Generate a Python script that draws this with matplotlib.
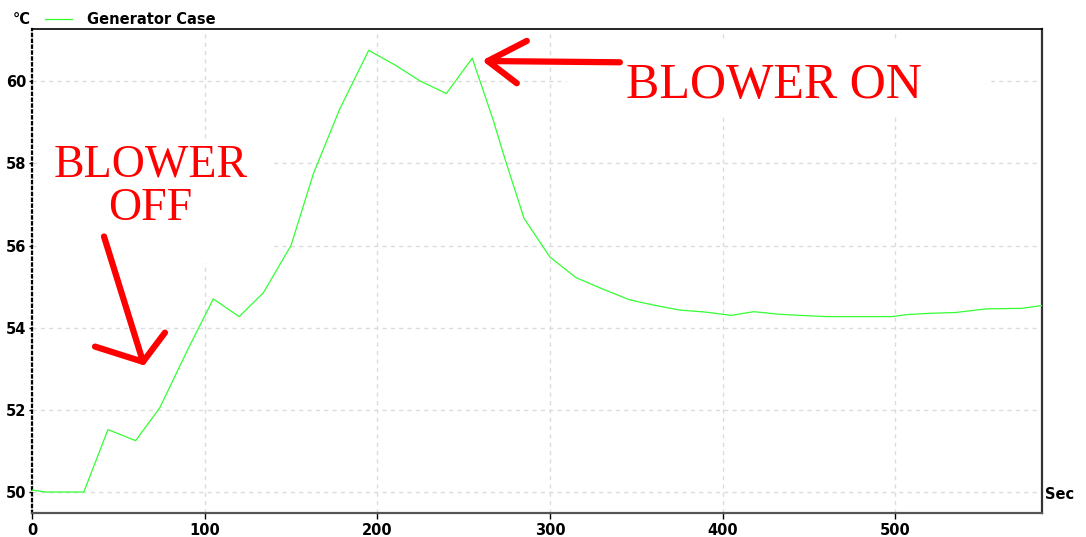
import matplotlib.pyplot as plt
from matplotlib.patches import Rectangle

# temperature log
t_sec = [0, 8, 30, 44, 60, 74, 90, 105, 120, 134, 150, 163, 178, 195, 210, 225,
         240, 255, 267, 274, 285, 300, 315, 330, 346, 360, 375, 390, 405, 418,
         432, 445, 460, 475, 498, 507, 520, 535, 553, 573, 585]
temp_c = [50.05, 50.0, 50.0, 51.52, 51.25, 52.05, 53.45, 54.7, 54.27, 54.85,
          56.0, 57.75, 59.3, 60.75, 60.4, 60.0, 59.7, 60.56, 59.07, 58.1, 56.66,
          55.72, 55.22, 54.95, 54.68, 54.55, 54.43, 54.38, 54.3, 54.39, 54.33,
          54.3, 54.27, 54.27, 54.27, 54.32, 54.35, 54.37, 54.46, 54.47, 54.54]

x_ticks = [0, 100, 200, 300, 400, 500]
y_ticks = [50, 52, 54, 56, 58, 60]

green = "#33ff33"
red = "#ff0000"

fig = plt.figure(figsize=(10.86, 5.37), dpi=100)
ax = fig.add_axes([32 / 1086, 24 / 537, 1010 / 1086, 484 / 537])

ax.plot(t_sec, temp_c, color=green, lw=0.9, label="Generator Case", zorder=3)

ax.set_xlim(0, 585)
ax.set_ylim(49.49, 61.27)
ax.set_xticks(x_ticks)
ax.set_yticks(y_ticks)
ax.tick_params(axis="x", length=4, width=1, pad=3, labelsize=10.5)
ax.tick_params(axis="y", length=2, width=1, pad=2, labelsize=10.5)
for lab in ax.get_xticklabels() + ax.get_yticklabels():
    lab.set_fontweight("bold")

ax.grid(True, color="#dcdcdc", ls=(0, (3, 3)), lw=1)
ax.set_axisbelow(True)

ax.spines["top"].set_color("black")
ax.spines["top"].set_linewidth(1.2)
ax.spines["right"].set_color("#333333")
ax.spines["right"].set_linewidth(1.6)
ax.spines["bottom"].set_color("#555555")
ax.spines["bottom"].set_linewidth(1.6)
ax.spines["left"].set_color("black")
ax.spines["left"].set_linestyle(":")
ax.spines["left"].set_linewidth(1.6)

# white patches behind the pasted annotations
ax.add_patch(Rectangle((309.8, 59.15), 244.9, 1.87, color="white", zorder=1.5))
ax.add_patch(Rectangle((4.6, 55.6), 134.9, 2.99, color="white", zorder=1.5))

# annotations
ax.text(430, 59.9, "BLOWER ON", color=red, family="Liberation Serif",
        fontsize=36, ha="center", va="center", zorder=4)
ax.text(68.9, 57.95, "BLOWER", color=red, family="Liberation Serif",
        fontsize=33, ha="center", va="center", zorder=4)
ax.text(68.3, 56.9, "OFF", color=red, family="Liberation Serif",
        fontsize=33, ha="center", va="center", zorder=4)

arrow_kw = dict(color=red, lw=4.5, solid_capstyle="round", zorder=4)
ax.plot([41.7, 64.3], [56.22, 53.17], **arrow_kw)
ax.plot([36.5, 64.3, 77.0], [53.54, 53.17, 53.88], solid_joinstyle="round", **arrow_kw)
ax.plot([340.5, 264.0], [60.46, 60.49], **arrow_kw)
ax.plot([286.6, 264.0, 280.8], [60.98, 60.49, 59.95], solid_joinstyle="round", **arrow_kw)

# header: unit and legend
fig.text(13 / 1086, 1 - 20 / 537, "°C", fontsize=10.5, fontweight="bold", va="center")
ax.legend(loc="center left", bbox_to_anchor=(45 / 1086, 1 - 20 / 537),
          bbox_transform=fig.transFigure, frameon=False, borderpad=0,
          borderaxespad=0, handlelength=1.85, handletextpad=1.0,
          prop={"size": 10.5, "weight": "bold"})
ax.text(1.003, 49.95, "Sec", transform=ax.get_yaxis_transform(), fontsize=10.5,
        fontweight="bold", va="center", ha="left")

fig.savefig("out.png", dpi=100)
